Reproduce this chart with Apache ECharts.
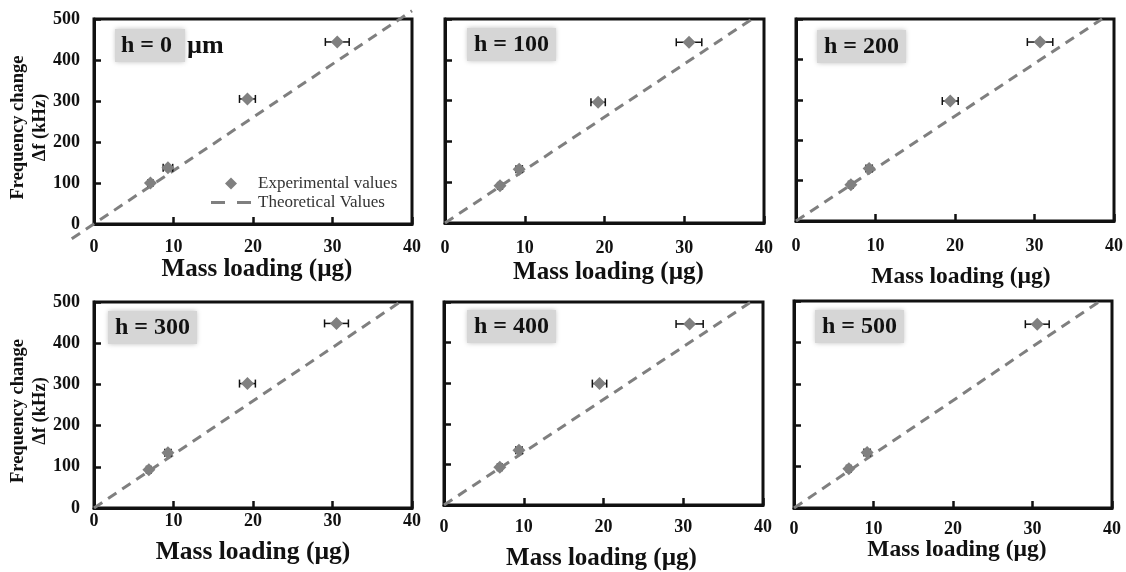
<!DOCTYPE html>
<html><head><meta charset="utf-8">
<script src="https://cdn.jsdelivr.net/npm/echarts@6/dist/echarts.min.js"></script>
<style>html,body{margin:0;padding:0;background:#fff}#c{width:1126px;height:572px}</style>
</head><body><div id="c"></div>
<script>
// ---------- data ----------
const panelLabels = ['h = 0', 'h = 100', 'h = 200', 'h = 300', 'h = 400', 'h = 500'];
const xTickValues = [0, 10, 20, 30, 40];
const yTickValues = [0, 100, 200, 300, 400, 500];

const mass_h0 = [7.1, 9.3, 19.3, 30.6];
const freq_h0 = [100, 137, 305, 444];
const err_h0  = [0.3, 0.6, 1.0, 1.5];

const mass_h100 = [6.9, 9.3, 19.2, 30.6];
const freq_h100 = [91, 132, 296, 443];
const err_h100  = [0.3, 0.4, 0.9, 1.6];

const mass_h200 = [6.9, 9.2, 19.4, 30.7];
const freq_h200 = [90, 130, 297, 443];
const err_h200  = [0.3, 0.4, 1.0, 1.6];

const mass_h300 = [6.9, 9.3, 19.3, 30.5];
const freq_h300 = [93, 134, 302, 448];
const err_h300  = [0.3, 0.4, 1.0, 1.5];

const mass_h400 = [7.0, 9.4, 19.5, 30.8];
const freq_h400 = [93, 135, 299, 446];
const err_h400  = [0.3, 0.4, 0.9, 1.7];

const mass_h500 = [6.9, 9.2, 30.6];
const freq_h500 = [95, 134, 444];
const err_h500  = [0.3, 0.4, 1.5];

// theoretical line end points
const theoMass_h0 = [-2.8, 40];
const theoFreq_h0 = [-36, 520];
const theoMass = [0, 38.5];
const theoFreq = [0, 500];

const panels = [
  {mass: mass_h0,   freq: freq_h0,   err: err_h0,   tMass: theoMass_h0, tFreq: theoFreq_h0},
  {mass: mass_h100, freq: freq_h100, err: err_h100, tMass: theoMass, tFreq: theoFreq},
  {mass: mass_h200, freq: freq_h200, err: err_h200, tMass: theoMass, tFreq: theoFreq},
  {mass: mass_h300, freq: freq_h300, err: err_h300, tMass: theoMass, tFreq: theoFreq},
  {mass: mass_h400, freq: freq_h400, err: err_h400, tMass: theoMass, tFreq: theoFreq},
  {mass: mass_h500, freq: freq_h500, err: err_h500, tMass: theoMass, tFreq: theoFreq}
];

// ---------- layout ----------
const FONT = '"Liberation Serif", "Times New Roman", serif';
const layout = [
  {left: 94,  top: 19,  width: 318, height: 205, lm: 14, ng: 33, ns: 25,   dx: 4,  yl: true,  box: [115, 28]},
  {left: 445, top: 19,  width: 319, height: 204, lm: 16, ng: 37, ns: 25,   dx: 4,  yl: false, box: [467, 28]},
  {left: 796, top: 19,  width: 318, height: 202, lm: 16, ng: 44, ns: 23.5, dx: 6,  yl: false, box: [817, 30]},
  {left: 94,  top: 302, width: 318, height: 206, lm: 4,  ng: 31, ns: 25.5, dx: 0,  yl: true,  box: [108, 311]},
  {left: 444, top: 302, width: 319, height: 203, lm: 13, ng: 41, ns: 25,   dx: -2, yl: false, box: [467, 310]},
  {left: 794, top: 301, width: 318, height: 207, lm: 12, ng: 30, ns: 23.5, dx: 4,  yl: false, box: [815, 310]}
];

const grids = [], xAxes = [], yAxes = [], series = [], titles = [];

function renderErr(params, api) {
  const y = api.value(2);
  const p1 = api.coord([api.value(0), y]);
  const p2 = api.coord([api.value(1), y]);
  const h = 4;
  const style = {stroke: '#111', lineWidth: 1.5};
  return {type: 'group', children: [
    {type: 'line', shape: {x1: p1[0], y1: p1[1], x2: p2[0], y2: p2[1]}, style: style},
    {type: 'line', shape: {x1: p1[0], y1: p1[1] - h, x2: p1[0], y2: p1[1] + h}, style: style},
    {type: 'line', shape: {x1: p2[0], y1: p2[1] - h, x2: p2[0], y2: p2[1] + h}, style: style}
  ]};
}

function renderTheo(params, api) {
  const a = api.coord([api.value(0), api.value(1)]);
  const b = api.coord([api.value(2), api.value(3)]);
  return {type: 'line', shape: {x1: a[0], y1: a[1], x2: b[0], y2: b[1]},
    style: {stroke: '#7f7f7f', lineWidth: 3, lineDash: [10, 7], lineCap: 'butt'}};
}

layout.forEach((L, i) => {
  const P = panels[i];
  grids.push({left: L.left, top: L.top, width: L.width, height: L.height, show: true,
    borderColor: '#111', borderWidth: 3, backgroundColor: 'transparent', outerBoundsMode: 'none', containLabel: false});
  const padL = L.dx > 0 ? 2 * L.dx : 0, padR = L.dx < 0 ? -2 * L.dx : 0;
  xAxes.push({type: 'value', gridIndex: i, min: xTickValues[0], max: xTickValues[xTickValues.length - 1], interval: 10,
    name: 'Mass loading (µg)', nameLocation: 'middle', nameGap: L.ng, nameMoveOverlap: false,
    nameTextStyle: {fontFamily: FONT, fontWeight: 'bold', fontSize: L.ns, color: '#111', padding: [0, padR, 0, padL]},
    axisLine: {show: true, onZero: false, lineStyle: {color: '#111', width: 3}},
    axisTick: {show: true, inside: true, length: 7, lineStyle: {color: '#111', width: 2.5}},
    axisLabel: {show: true, margin: L.lm, fontFamily: FONT, fontWeight: 'bold', fontSize: 18, color: '#111',
      showMinLabel: true, showMaxLabel: true},
    splitLine: {show: false}});
  yAxes.push({type: 'value', gridIndex: i, min: yTickValues[0], max: yTickValues[yTickValues.length - 1], interval: 100,
    name: L.yl ? 'Frequency change\nΔf (kHz)' : '', nameLocation: 'middle', nameGap: 43, nameRotate: 90, nameMoveOverlap: false,
    nameTextStyle: {fontFamily: FONT, fontWeight: 'bold', fontSize: 18.5, color: '#111', lineHeight: 22, padding: [0, 12, 0, 0]},
    axisLine: {show: true, onZero: false, lineStyle: {color: '#111', width: 3}},
    axisTick: {show: true, inside: true, length: 7, lineStyle: {color: '#111', width: 2.5}},
    axisLabel: {show: L.yl, margin: 14, fontFamily: FONT, fontWeight: 'bold', fontSize: 18, color: '#111'},
    splitLine: {show: false}});

  series.push({type: 'custom', name: 'Theoretical Values', xAxisIndex: i, yAxisIndex: i,
    renderItem: renderTheo, encode: {x: [0, 2], y: [1, 3]}, clip: false, z: 2,
    itemStyle: {color: '#7f7f7f'},
    data: [[P.tMass[0], P.tFreq[0], P.tMass[1], P.tFreq[1]]]});
  series.push({type: 'custom', name: 'err' + i, xAxisIndex: i, yAxisIndex: i,
    renderItem: renderErr, encode: {x: [0, 1], y: 2}, z: 3,
    data: P.mass.map((m, k) => [m - P.err[k], m + P.err[k], P.freq[k]])});
  series.push({type: 'scatter', name: 'Experimental values', xAxisIndex: i, yAxisIndex: i,
    data: P.mass.map((m, k) => [m, P.freq[k]]), symbol: 'diamond', symbolSize: 13, z: 4,
    itemStyle: {color: '#808080', opacity: 1}});

  const txt = i === 0 ? '{a|' + panelLabels[i] + '}{b|µm}' : '{a|' + panelLabels[i] + '}';
  titles.push({left: L.box[0], top: L.box[1], padding: 0, text: txt,
    textStyle: {rich: {
      a: {fontFamily: FONT, fontWeight: 'bold', fontSize: 24, color: '#111', backgroundColor: '#d6d6d6',
          padding: [5, i === 0 ? 13 : 7, 4, i === 0 ? 6 : 7], shadowBlur: 5, shadowColor: 'rgba(0,0,0,0.25)'},
      b: {fontFamily: FONT, fontWeight: 'bold', fontSize: 26, color: '#111', padding: [5, 0, 4, 2]}
    }}});
});

const chart = echarts.init(document.getElementById('c'), null, {renderer: 'canvas'});
chart.setOption({
  animation: false,
  backgroundColor: '#fff',
  title: titles,
  grid: grids, xAxis: xAxes, yAxis: yAxes, series: series,
  legend: {show: true, orient: 'vertical', left: 206, top: 170, itemWidth: 40, itemHeight: 12, itemGap: 2,
    symbolKeepAspect: true, selectedMode: false,
    data: [
      {name: 'Experimental values', icon: 'path://M5,0 L10,5 L5,10 L0,5 Z', itemStyle: {color: '#808080'}},
      {name: 'Theoretical Values', icon: 'path://M0,0 h14 v3 h-14 Z M26,0 h14 v3 h-14 Z', itemStyle: {color: '#7f7f7f'}}
    ],
    textStyle: {fontFamily: FONT, fontSize: 17, color: '#333', padding: [0, 0, 0, 2]}}
});
</script></body></html>
